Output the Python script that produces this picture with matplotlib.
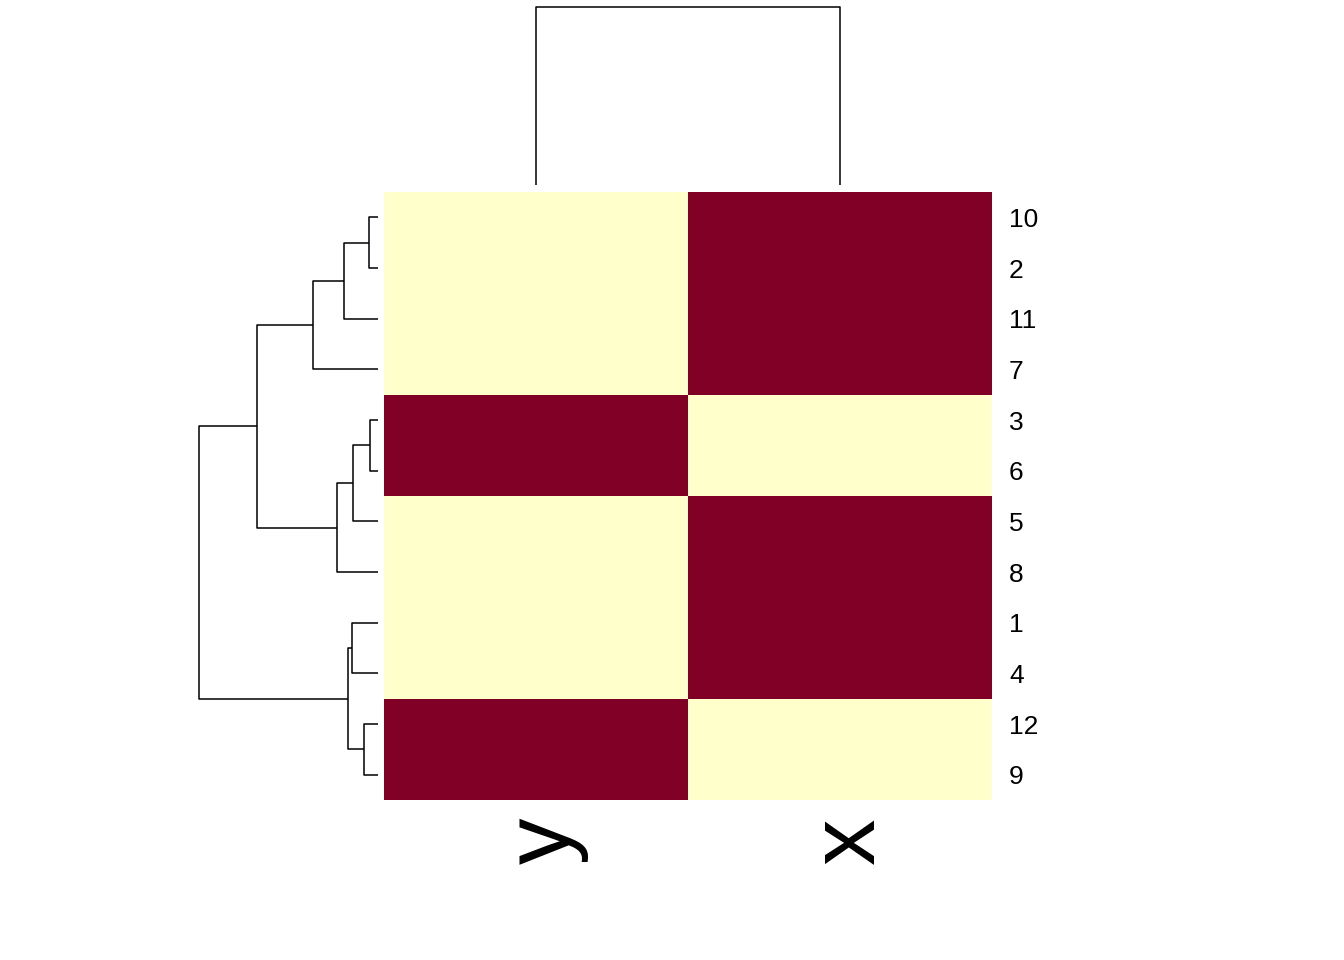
import matplotlib
matplotlib.use("Agg")
import matplotlib.pyplot as plt
import matplotlib.transforms as mtransforms
from matplotlib.colors import ListedColormap
import numpy as np

plt.rcParams['font.family'] = ['Liberation Sans', 'DejaVu Sans']

# data: one row per observation, two columns x and y
row_ids = [1, 2, 3, 4, 5, 6, 7, 8, 9, 10, 11, 12]
val_x = [1, 1, 0, 1, 1, 0, 1, 1, 0, 1, 1, 0]
val_y = [0, 0, 1, 0, 0, 1, 0, 0, 1, 0, 0, 1]
col_labels = ['y', 'x']          # column order after clustering

# row clustering (node, left, right, height)
row_merges = [
    ('a', 10, 2, 0.30),
    ('b', 'a', 11, 1.12),
    ('c', 'b', 7, 2.16),
    ('d', 3, 6, 0.26),
    ('e', 'd', 5, 0.82),
    ('f', 'e', 8, 1.37),
    ('g', 'c', 'f', 4.02),
    ('h', 1, 4, 0.88),
    ('i', 12, 9, 0.47),
    ('j', 'h', 'i', 1.01),
    ('k', 'g', 'j', 5.97),
]
col_merge_height = 6.2

light = '#FFFFCC'
dark = '#800026'


def leaf_order(merges):
    kids = {m[0]: (m[1], m[2]) for m in merges}

    def walk(n):
        if n in kids:
            return walk(kids[n][0]) + walk(kids[n][1])
        return [n]
    return walk(merges[-1][0])


def draw_dendro(ax, merges, leaves, horizontal):
    pos = {lab: i + 0.5 for i, lab in enumerate(leaves)}
    hgt = {lab: 0.0 for lab in leaves}
    for name, l, r, h in merges:
        p1, p2 = pos[l], pos[r]
        xs = [hgt[l], h, h, hgt[r]]
        ys = [p1, p1, p2, p2]
        if horizontal:
            ax.plot(xs, ys, color='black', lw=1.1, clip_on=False,
                    solid_capstyle='butt')
        else:
            ax.plot(ys, xs, color='black', lw=1.1, clip_on=False,
                    solid_capstyle='butt')
        pos[name] = (p1 + p2) / 2
        hgt[name] = h


order = leaf_order(row_merges)
vals = {'x': dict(zip(row_ids, val_x)), 'y': dict(zip(row_ids, val_y))}
mat = np.array([[vals[c][r] for c in col_labels] for r in order])

fig = plt.figure(figsize=(13.44, 9.6), dpi=100)
W, H = 1344.0, 960.0

# heatmap
ax = fig.add_axes([384 / W, 1 - 800 / H, 608 / W, 608 / H])
ax.pcolormesh(np.arange(3), np.arange(13), mat,
              cmap=ListedColormap([light, dark]), vmin=0, vmax=1)
ax.set_xlim(0, 2)
ax.set_ylim(12, 0)
ax.axis('off')

# row labels on the right (baseline set half a cap height below centre)
off_r = mtransforms.ScaledTranslation(0.17, -0.095, fig.dpi_scale_trans)
for i, lab in enumerate(order):
    ax.text(2, i + 0.5, str(lab), transform=ax.transData + off_r,
            ha='left', va='baseline', fontsize=19)

# column labels below, rotated
off_c = mtransforms.ScaledTranslation(0.34, -0.17, fig.dpi_scale_trans)
for j, lab in enumerate(col_labels):
    ax.text(j + 0.5, 12, lab, transform=ax.transData + off_c,
            rotation=90, rotation_mode='anchor',
            ha='right', va='baseline', fontsize=67)

# row dendrogram
axr = fig.add_axes([199 / W, 1 - 800 / H, 179 / W, 608 / H])
draw_dendro(axr, row_merges, order, horizontal=True)
axr.set_xlim(row_merges[-1][3], 0)
axr.set_ylim(12, 0)
axr.axis('off')

# column dendrogram
axc = fig.add_axes([384 / W, 1 - 185 / H, 608 / W, 178.3 / H])
draw_dendro(axc, [('r', 'y', 'x', col_merge_height)], col_labels,
            horizontal=False)
axc.set_xlim(0, 2)
axc.set_ylim(0, col_merge_height)
axc.axis('off')

fig.savefig('out.png', dpi=100)
